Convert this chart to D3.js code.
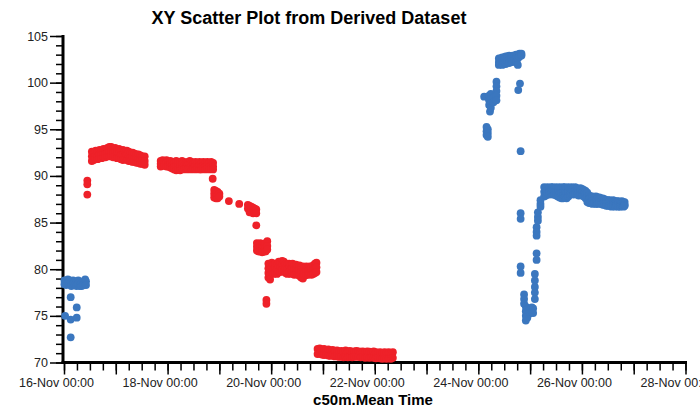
<!DOCTYPE html>
<html>
<head>
<meta charset="utf-8">
<script src="https://cdn.jsdelivr.net/npm/d3@7"></script>
<style>
  body { margin: 0; background: #fff; }
  svg { display: block; }
  text { font-family: "Liberation Sans", Arial, sans-serif; }
</style>
</head>
<body>
<svg id="chart" width="700" height="407"></svg>
<script>
// x values are hours after 16-Nov 00:00, then one or more y values at that time
const startTime = new Date(2015, 10, 16, 0, 0);
const endHours = 288;
const yMajorTicks = [70, 75, 80, 85, 90, 95, 100, 105];

// blue series
const blueStart = [
  [0.2, 78.8, 78.4], [1.0, 78.7, 78.3], [1.8, 78.9, 78.5], [2.6, 78.8, 78.4],
  [3.4, 78.6, 78.2], [4.2, 78.8, 78.4], [5.0, 78.7, 78.3], [5.8, 78.6, 78.2],
  [6.6, 78.8, 78.4], [7.4, 78.6, 78.2], [8.2, 78.5, 78.2], [9.0, 78.7, 78.3],
  [9.8, 78.9, 78.4], [10.2, 78.7, 78.3]
];
const blueOutliers = [
  [0.5, 75.0], [3.1, 77.0, 74.6, 72.7], [5.9, 75.9, 74.8]
];
const blueClimb = [
  [194.7, 98.5], [195.8, 95.25, 94.8, 94.4], [196.4, 95.0, 94.6, 94.2],
  [197.0, 98.6, 98.1, 97.6], [197.4, 96.9], [197.8, 98.8, 98.3, 97.8, 97.3],
  [199.0, 98.4, 97.9], [200.4, 100.1, 99.6, 99.1, 98.6, 98.1]
];
const blueTop = [
  [201.5, 102.6, 102.2, 101.9], [202.3, 102.6, 102.1], [203.1, 102.7, 102.2, 101.9],
  [203.9, 102.7, 102.2], [204.7, 102.8, 102.3, 102.0], [205.5, 102.8, 102.3],
  [206.3, 102.9, 102.4, 102.1], [207.1, 102.8, 102.3], [207.9, 102.9, 102.4, 102.2],
  [208.7, 102.9, 102.5], [209.5, 103.0, 102.6, 102.2], [210.3, 103.0, 102.6, 101.9],
  [211.1, 103.1, 102.8], [212.0, 103.1, 102.9]
];
const blueFall = [
  [210.5, 99.2], [211.3, 99.9], [211.6, 92.65, 86.0, 85.4, 80.3, 79.6],
  [213.2, 77.3, 76.8, 76.3], [214.0, 76.0, 75.5, 75.0, 74.5], [214.7, 75.8, 75.3, 74.8],
  [215.4, 75.7, 75.2], [216.1, 75.8, 75.3], [216.8, 75.9, 75.4], [217.4, 75.8, 75.3],
  [218.2, 79.5, 78.8, 78.1, 77.5, 76.8], [219.0, 84.5, 84.0, 83.6, 81.7, 81.0],
  [219.6, 86.1, 85.6, 85.2], [220.8, 87.4, 87.0, 86.7]
];
const bluePlateau = [
  [222.5, 88.8, 88.3, 87.8], [223.3, 88.7, 88.3, 87.9], [224.1, 88.8, 88.4, 88.1],
  [224.9, 88.7, 88.3, 88.0], [225.7, 88.8, 88.4, 88.1], [226.5, 88.8, 88.4, 88.0],
  [227.3, 88.7, 88.3, 88.0], [228.1, 88.8, 88.3, 87.9], [228.9, 88.7, 88.2, 87.8],
  [229.7, 88.8, 88.2, 87.7], [230.5, 88.7, 88.2, 87.6], [231.3, 88.8, 88.2, 87.6],
  [232.1, 88.8, 88.2, 87.7], [232.9, 88.7, 88.2, 87.6], [233.7, 88.8, 88.3, 87.8],
  [234.5, 88.7, 88.3, 88.0], [235.3, 88.8, 88.4, 88.1], [236.1, 88.7, 88.3, 88.0],
  [236.9, 88.8, 88.4, 88.1], [237.7, 88.7, 88.3, 88.0], [238.5, 88.6, 88.2, 87.9],
  [239.3, 88.7, 88.3, 88.0], [240.1, 88.6, 88.2, 87.9], [240.9, 88.5, 88.1, 87.8],
  [241.7, 88.4, 88.0, 87.6], [242.5, 88.2, 87.7, 87.2], [243.3, 87.9, 87.5, 87.1],
  [244.1, 87.8, 87.4, 87.1], [244.9, 87.8, 87.4, 87.0], [245.7, 87.7, 87.4, 87.1],
  [246.5, 87.8, 87.4, 87.0], [247.3, 87.7, 87.3, 87.0], [248.1, 87.7, 87.4, 87.1],
  [248.9, 87.6, 87.3, 87.0], [249.7, 87.6, 87.2, 86.9], [250.5, 87.5, 87.2, 86.9],
  [251.3, 87.4, 87.1, 86.8], [252.1, 87.4, 87.1, 86.8], [252.9, 87.4, 87.0, 86.8],
  [253.7, 87.3, 87.0, 86.7], [254.5, 87.4, 87.0, 86.8], [255.3, 87.3, 87.0, 86.7],
  [256.1, 87.3, 87.0, 86.8], [256.9, 87.3, 87.0, 86.7], [257.7, 87.2, 86.9, 86.7],
  [258.5, 87.3, 87.0, 86.8], [259.3, 87.2, 86.9, 86.7], [259.8, 87.2, 86.9, 86.8]
];

// red series
const redStart = [[10.8, 89.5, 89.1, 88.0]];
const redHigh = [
  [12.9, 92.6, 92.1, 91.6], [13.8, 92.5, 92.0, 91.7], [14.7, 92.7, 92.2, 91.8],
  [15.6, 92.6, 92.1, 91.8], [16.5, 92.8, 92.3, 91.9], [17.4, 92.7, 92.3, 91.9],
  [18.3, 92.9, 92.4, 92.0], [19.2, 92.8, 92.4, 92.0], [20.1, 93.0, 92.5, 92.1],
  [21.0, 93.1, 92.6, 92.1], [21.9, 93.1, 92.6, 92.1], [22.8, 92.9, 92.5, 92.0],
  [23.7, 93.0, 92.5, 92.1], [24.6, 92.8, 92.4, 91.9], [25.5, 92.9, 92.4, 91.9],
  [26.4, 92.7, 92.2, 91.8], [27.3, 92.8, 92.3, 91.7], [28.2, 92.6, 92.1, 91.8],
  [29.1, 92.7, 92.2, 91.7], [30.0, 92.6, 92.1, 91.6], [30.9, 92.5, 92.0, 91.6],
  [31.8, 92.5, 92.0, 91.5], [32.7, 92.4, 91.9, 91.5], [33.6, 92.3, 91.9, 91.4],
  [34.5, 92.3, 91.8, 91.4], [35.4, 92.2, 91.7, 91.3], [36.3, 92.1, 91.7, 91.3],
  [37.4, 92.1, 91.6, 91.2]
];
const redSecond = [
  [44.8, 91.6, 91.3, 91.0], [45.7, 91.7, 91.4, 91.1], [46.6, 91.6, 91.3, 91.1],
  [47.5, 91.7, 91.4, 91.0], [48.4, 91.5, 91.2, 91.0], [49.3, 91.6, 91.3, 90.9],
  [50.2, 91.5, 91.1, 90.8], [51.1, 91.4, 91.0, 90.7], [52.0, 91.6, 91.1, 90.6],
  [52.9, 91.5, 91.0, 90.7], [53.8, 91.4, 91.0, 90.6], [54.7, 91.6, 91.2, 90.8],
  [55.6, 91.5, 91.1, 90.7], [56.5, 91.4, 91.0, 90.8], [57.4, 91.5, 91.1, 90.7],
  [58.3, 91.6, 91.2, 90.8], [59.2, 91.5, 91.1, 90.7], [60.1, 91.4, 91.0, 90.8],
  [61.0, 91.5, 91.1, 90.7], [61.9, 91.4, 91.0, 90.8], [62.8, 91.5, 91.1, 90.7],
  [63.7, 91.4, 91.0, 90.7], [64.6, 91.5, 91.1, 90.8], [65.5, 91.4, 91.0, 90.7],
  [66.4, 91.5, 91.1, 90.8], [67.3, 91.4, 91.0, 90.7], [68.2, 91.5, 91.1, 90.8],
  [68.9, 89.7], [69.1, 91.4, 91.0, 90.7]
];
const redFall = [
  [69.6, 88.5, 88.1, 87.7], [70.4, 88.4, 88.0, 87.6], [71.2, 88.3, 87.9, 87.6],
  [72.0, 88.1, 87.8], [76.4, 87.3], [81.2, 87.0],
  [85.2, 86.9, 86.5], [86.0, 86.8, 86.4, 86.1], [86.8, 86.7, 86.3],
  [87.6, 86.6, 86.2, 86.0], [88.4, 86.5, 86.1], [89.1, 86.4, 86.0, 84.7],
  [89.4, 82.8, 82.4, 82.0], [90.2, 82.7, 82.3, 81.9], [91.0, 82.8, 82.4, 82.0],
  [91.8, 82.6, 82.2, 81.8], [92.6, 82.7, 82.3, 81.9], [93.4, 82.8, 82.3, 81.9],
  [93.8, 76.7, 76.3], [94.2, 83.0, 82.5, 82.1]
];
const redEighty = [
  [94.7, 80.6, 80.1, 79.6, 79.1], [95.5, 80.4, 79.9, 79.4, 78.9], [96.3, 80.7, 80.2, 79.7],
  [97.1, 80.5, 80.0, 79.5], [97.9, 80.6, 80.1, 79.6], [98.7, 80.4, 80.0, 79.5],
  [99.5, 80.8, 80.3, 79.8], [100.3, 80.7, 80.2, 79.7], [101.1, 80.9, 80.4, 79.9],
  [101.9, 80.8, 80.3, 79.8], [102.7, 80.6, 80.1, 79.6], [103.5, 80.5, 80.0, 79.5],
  [104.3, 80.6, 80.1, 79.7], [105.1, 80.5, 80.0, 79.5], [105.9, 80.6, 80.1, 79.6],
  [106.7, 80.4, 79.9, 79.4], [107.5, 80.5, 80.0, 79.5], [108.3, 80.3, 79.9, 79.4],
  [109.1, 80.4, 79.9, 79.3], [109.9, 80.2, 79.7, 79.1], [110.7, 80.3, 79.7, 79.0],
  [111.5, 80.2, 79.7, 79.3], [112.3, 80.3, 79.8, 79.4], [113.1, 80.2, 79.8, 79.4],
  [113.9, 80.3, 79.9, 79.5], [114.7, 80.2, 79.8, 79.4], [115.5, 80.4, 79.9, 79.5],
  [116.3, 80.6, 80.1, 79.6], [117.0, 80.7, 80.2, 79.7]
];
const redLow = [
  [117.5, 71.45, 70.9], [118.5, 71.5, 70.95], [119.5, 71.4, 70.85], [120.5, 71.45, 70.8],
  [121.5, 71.35, 70.85], [122.5, 71.4, 70.75], [123.5, 71.3, 70.7], [124.5, 71.35, 70.8],
  [125.5, 71.25, 70.65], [126.5, 71.3, 70.7], [127.5, 71.2, 70.6], [128.5, 71.25, 70.65],
  [129.5, 71.2, 70.55], [130.5, 71.3, 70.6], [131.5, 71.2, 70.55], [132.5, 71.25, 70.6],
  [133.5, 71.15, 70.55], [134.5, 71.2, 70.6], [135.5, 71.25, 70.65], [136.5, 71.2, 70.6],
  [137.5, 71.15, 70.55], [138.5, 71.2, 70.6], [139.5, 71.1, 70.5], [140.5, 71.2, 70.55],
  [141.5, 71.15, 70.5], [142.5, 71.1, 70.55], [143.5, 71.2, 70.5], [144.5, 71.1, 70.45],
  [145.5, 71.05, 70.5], [146.5, 71.1, 70.45], [147.5, 71.0, 70.4], [148.5, 71.1, 70.45],
  [149.5, 71.05, 70.4], [150.5, 71.1, 70.45], [151.5, 71.0, 70.4], [152.4, 71.1, 70.5]
];

const blueColor = "#3b77bf";
const redColor = "#ee2129";

// flatten [hours, v1, v2 ...] rows into points
function toPoints(rows) {
  const pts = [];
  rows.forEach(r => {
    const t = d3.timeMinute.offset(startTime, Math.round(r[0] * 60));
    r.slice(1).forEach(v => pts.push({ t, v }));
  });
  return pts;
}

const bluePoints = toPoints([...blueStart, ...blueOutliers, ...blueClimb, ...blueTop, ...blueFall, ...bluePlateau]);
const redPoints = toPoints([...redStart, ...redHigh, ...redSecond, ...redFall, ...redEighty, ...redLow]);

const svg = d3.select("#chart");
const x = d3.scaleTime()
  .domain([startTime, d3.timeHour.offset(startTime, endHours)])
  .range([64, 685.5]);
const y = d3.scaleLinear().domain([70, 105]).range([362.5, 36]);

// title
svg.append("text")
  .attr("x", 309).attr("y", 24)
  .attr("text-anchor", "middle")
  .style("font-size", "18px").style("font-weight", "bold")
  .text("XY Scatter Plot from Derived Dataset");

// x axis
const fmt = d3.timeFormat("%d-%b %H:%M");
const xMinor = svg.append("g").attr("transform", "translate(0,362.5)")
  .call(d3.axisBottom(x).ticks(d3.timeHour.every(6)).tickSize(8).tickSizeOuter(0).tickFormat(""));
const xMajor = svg.append("g").attr("transform", "translate(0,362.5)")
  .call(d3.axisBottom(x).ticks(d3.timeDay.every(1)).tickSize(12).tickSizeOuter(0).tickPadding(4)
    .tickFormat(d => d.getDate() % 2 === 0 ? fmt(d) : ""));
xMajor.selectAll(".tick text").attr("dx", -8)
  .style("font-size", "12.5px").style("fill", "#222").style("font-family", "'Liberation Sans', Arial, sans-serif");

// y axis
const yMinor = svg.append("g").attr("transform", "translate(63,0)")
  .call(d3.axisLeft(y).tickValues(d3.range(70, 106, 1)).tickSize(7).tickSizeOuter(0).tickFormat(""));
const yMajor = svg.append("g").attr("transform", "translate(63,0)")
  .call(d3.axisLeft(y).tickValues(yMajorTicks).tickSize(13).tickSizeOuter(0).tickPadding(2));
yMajor.selectAll(".tick text")
  .style("font-size", "12.5px").style("fill", "#222").style("font-family", "'Liberation Sans', Arial, sans-serif");

[xMinor, xMajor, yMinor, yMajor].forEach(g => {
  g.select(".domain").remove();
  g.selectAll(".tick line").attr("stroke", "#000").attr("stroke-width", 1.5);
});

// thick axis lines
svg.append("line").attr("x1", 63).attr("x2", 63).attr("y1", 35).attr("y2", 364)
  .attr("stroke", "#000").attr("stroke-width", 3);
svg.append("line").attr("x1", 61.5).attr("x2", 687).attr("y1", 362.5).attr("y2", 362.5)
  .attr("stroke", "#000").attr("stroke-width", 3);

// x axis title
svg.append("text")
  .attr("x", 373).attr("y", 405)
  .attr("text-anchor", "middle")
  .style("font-size", "15px").style("font-weight", "bold")
  .text("c50m.Mean Time");

// points
svg.append("g").selectAll("circle").data(bluePoints).join("circle")
  .attr("cx", d => x(d.t)).attr("cy", d => y(d.v)).attr("r", 3.9)
  .attr("fill", blueColor);
svg.append("g").selectAll("circle").data(redPoints).join("circle")
  .attr("cx", d => x(d.t)).attr("cy", d => y(d.v)).attr("r", 3.9)
  .attr("fill", redColor);
</script>
</body>
</html>
